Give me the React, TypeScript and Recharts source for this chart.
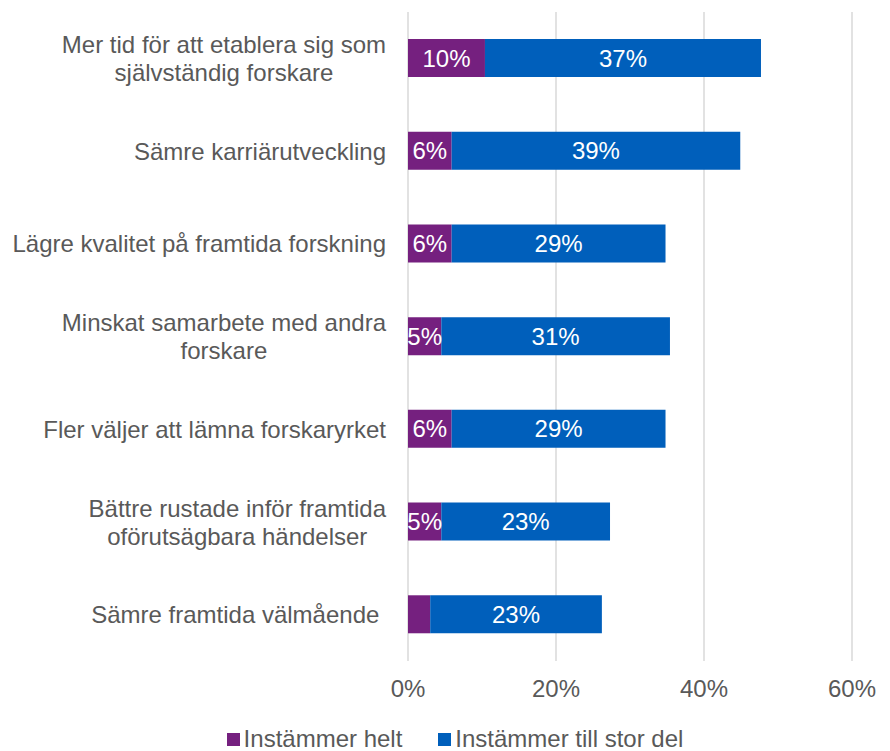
import { Bar, BarChart, CartesianGrid, LabelList, Legend, XAxis, YAxis } from "recharts";

const CATEGORIES = [
  "Mer tid för att etablera sig som\nsjälvständig forskare",
  "Sämre karriärutveckling",
  "Lägre kvalitet på framtida forskning",
  "Minskat samarbete med andra\nforskare",
  "Fler väljer att lämna forskaryrket",
  "Bättre rustade inför framtida\noförutsägbara händelser",
  "Sämre framtida välmående ",
];
const HELT = [10.4, 5.9, 5.9, 4.5, 5.9, 4.5, 3.0];
const STOR_DEL = [37.3, 39.0, 28.9, 30.9, 28.9, 22.8, 23.2];
const X_TICKS = [0, 20, 40, 60];

const PURPLE = "#75207f";
const BLUE = "#005fbb";
const TEXT = "#595959";
const FONT = "'Liberation Sans', Arial, sans-serif";
const FONT_SIZE = 24;

const data = CATEGORIES.map((name, i) => ({
  name,
  helt: HELT[i],
  stor: STOR_DEL[i],
}));

let ctx: CanvasRenderingContext2D | null = null;
function textWidth(s: string) {
  if (!ctx) {
    ctx = document.createElement("canvas").getContext("2d");
  }
  if (!ctx) return s.length * FONT_SIZE * 0.5;
  ctx.font = `${FONT_SIZE}px "Liberation Sans"`;
  return ctx.measureText(s).width;
}

// multi-line category label, lines centred on each other, block right-aligned
function CategoryTick(props: any) {
  const { x, y, payload } = props;
  const lines: string[] = String(payload.value).split("\n");
  const widest = Math.max(...lines.map(textWidth));
  const cx = x - widest / 2;
  const lineH = 28;
  const first = y + 8.6 - ((lines.length - 1) * lineH) / 2;
  return (
    <text
      x={cx}
      y={first}
      textAnchor="middle"
      fill={TEXT}
      fontSize={FONT_SIZE}
      fontFamily={FONT}
      style={{ whiteSpace: "pre" }}
    >
      {lines.map((l, i) => (
        <tspan key={i} x={cx} y={first + i * lineH}>
          {l}
        </tspan>
      ))}
    </text>
  );
}

const pct = (v: any) => (v >= 4 ? `${Math.round(v)}%` : "");

function LegendContent() {
  const items = [
    { label: "Instämmer helt", color: PURPLE },
    { label: "Instämmer till stor del", color: BLUE },
  ];
  return (
    <div
      style={{
        display: "flex",
        justifyContent: "center",
        paddingLeft: 20,
        gap: 36,
        fontFamily: FONT,
        fontSize: FONT_SIZE,
        color: TEXT,
        lineHeight: "28px",
      }}
    >
      {items.map((it) => (
        <div key={it.label} style={{ display: "flex", alignItems: "center" }}>
          <span
            style={{
              display: "inline-block",
              width: 13,
              height: 13,
              background: it.color,
              marginRight: 4,
            }}
          />
          <span>{it.label}</span>
        </div>
      ))}
    </div>
  );
}

export default function App() {
  return (
    <div style={{ position: "absolute", left: 0, top: 0, background: "#fff" }}>
      <BarChart
        width={890}
        height={751}
        data={data}
        layout="vertical"
        margin={{ top: 12, right: 38, left: 0, bottom: 50 }}
        barSize={38}
      >
        <CartesianGrid horizontal={false} stroke="#d9d9d9" strokeWidth={1.5} />
        <XAxis
          type="number"
          domain={[0, 60]}
          ticks={X_TICKS}
          tickFormatter={(v) => `${v}%`}
          axisLine={false}
          tickLine={false}
          tickMargin={13}
          height={40}
          tick={{ fill: TEXT, fontSize: FONT_SIZE, fontFamily: FONT }}
        />
        <YAxis
          type="category"
          dataKey="name"
          width={408}
          axisLine={false}
          tickLine={false}
          tickMargin={16}
          tick={<CategoryTick />}
          interval={0}
        />
        <Legend
          layout="horizontal"
          verticalAlign="middle"
          align="center"
          content={<LegendContent />}
          wrapperStyle={{ top: 725, left: 0, width: 890 }}
        />
        <Bar dataKey="helt" name="Instämmer helt" stackId="a" fill={PURPLE} isAnimationActive={false}>
          <LabelList
            dataKey="helt"
            position="center"
            formatter={pct}
            fill="#fff"
            fontSize={FONT_SIZE}
            fontFamily={FONT}
          />
        </Bar>
        <Bar dataKey="stor" name="Instämmer till stor del" stackId="a" fill={BLUE} isAnimationActive={false}>
          <LabelList
            dataKey="stor"
            position="center"
            formatter={pct}
            fill="#fff"
            fontSize={FONT_SIZE}
            fontFamily={FONT}
          />
        </Bar>
      </BarChart>
    </div>
  );
}
